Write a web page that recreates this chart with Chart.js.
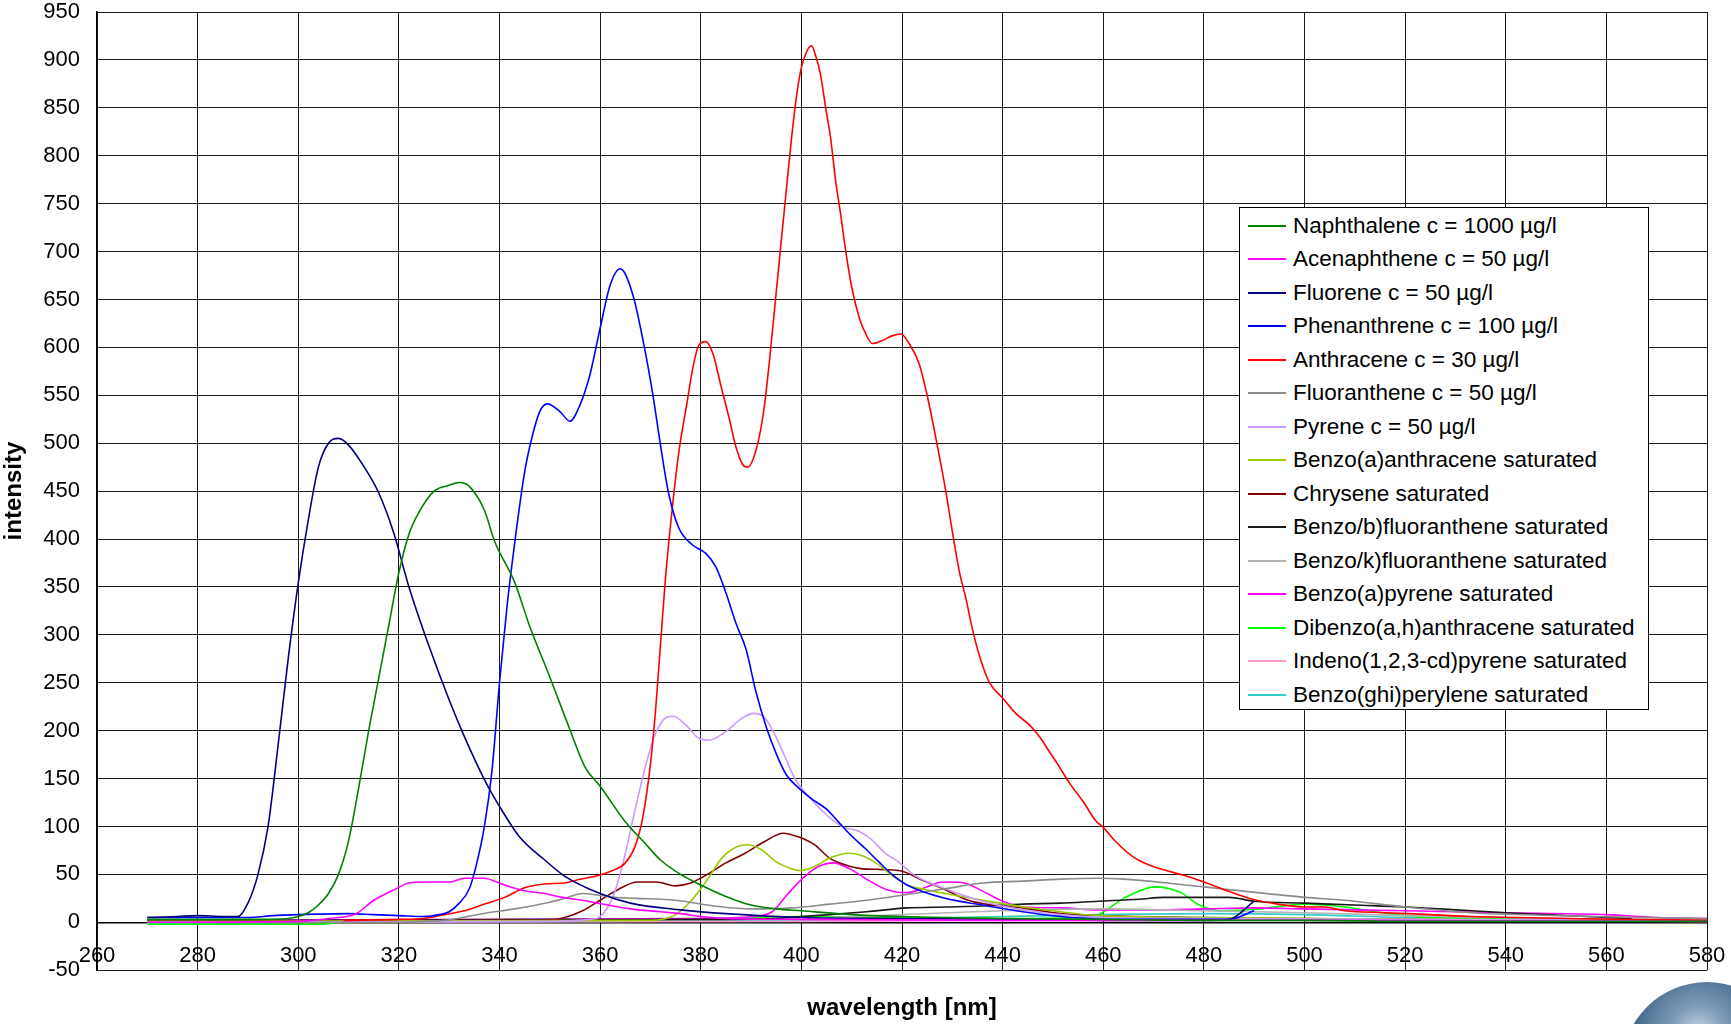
<!DOCTYPE html>
<html>
<head>
<meta charset="utf-8">
<script src="https://cdn.jsdelivr.net/npm/chart.js@4.4.1/dist/chart.umd.min.js"></script>
<style>
  body { margin: 0; background: #fff; }
  #wrap { position: relative; width: 1731px; height: 1024px; overflow: hidden; }
  #legend {
    position: absolute; left: 1239px; top: 207px; width: 410px; height: 503px;
    border: 1px solid #000; background: #fff; box-sizing: border-box; padding-top: 1px;
    font-family: "Liberation Sans", Arial, sans-serif; font-size: 22.5px; color: #000;
  }
  .row { height: 33.5px; display: flex; align-items: center; white-space: nowrap; }
  .sw { width: 38px; height: 2px; margin-left: 8px; margin-right: 7px; flex: none; }
  #logo {
    position: absolute; left: 1622px; top: 982px; width: 170px; height: 170px; border-radius: 50%;
    background: radial-gradient(circle at 45% 30%, #c9d9e6 0%, #7e9cb8 18%, #3f6488 45%, #27486a 75%);
  }
</style>
</head>
<body>
<div id="wrap">
  <canvas id="myChart" width="1731" height="1024"></canvas>
  <div id="legend"></div>
  <div id="logo"></div>
</div>
<script>
  // wavelength [nm] / intensity pairs
  const naphX = [270, 290, 298, 300, 302, 304, 306, 308, 310, 312, 314, 316, 318, 320, 322, 324, 327, 330, 332, 334, 337, 339, 343, 346, 350, 354, 357, 360, 365, 369, 372, 376, 380, 385, 390, 395, 400, 410, 420, 440, 460, 480, 500, 520, 540, 560, 580];
  const naphY = [3, 3, 4, 6, 10, 18, 30, 50, 85, 140, 200, 255, 310, 365, 405, 428, 450, 456, 459, 455, 430, 398, 355, 309, 256, 201, 162, 142, 105, 82, 65, 50, 39, 27, 18, 14, 12, 8, 6, 4, 3, 2, 2, 1, 1, 1, 1];

  const acenX = [270, 300, 306, 311.5, 315, 317.5, 319.5, 322, 326, 330, 333, 337, 339.5, 342, 345, 349, 352.5, 356.5, 360.5, 366, 372, 376, 380, 385, 400, 440, 500, 580];
  const acenY = [0, 1, 4, 9, 23, 30, 35, 41, 42, 42, 46, 46, 42, 37, 33, 30, 26, 23, 19, 14, 11, 9, 6, 4, 3, 2, 2, 1];

  const fluoX = [270, 276, 280, 285, 288, 290, 292, 294, 296, 298, 300, 302, 304, 306, 308, 310, 313, 316, 319, 322, 326, 330, 333, 337, 340, 344, 349, 353, 360, 366, 376, 385, 400, 420, 440, 460, 480, 485, 490];
  const fluoY = [5, 6, 7, 6, 6, 20, 50, 100, 185, 275, 354, 420, 475, 500, 505, 498, 476, 448, 406, 350, 288, 232, 194, 149, 121, 89, 65, 48, 30, 20, 13, 9, 5, 4, 3, 2, 2, 3, 22];

  const phenX = [270, 290, 295, 300, 310, 315, 320, 325, 328, 330, 332, 334, 335.5, 337, 338.5, 340, 341.5, 343, 345, 346.5, 348, 349.5, 352, 354, 356, 358, 360, 362, 364, 366.5, 368.5, 370.5, 372, 373.6, 375.6, 378.3, 381, 383, 385, 387, 389, 391, 393, 395, 397, 399.5, 402, 405, 407.5, 410, 412.7, 415.4, 418, 421, 428.6, 436, 444, 451.5, 459, 470, 485, 490];
  const phenY = [5, 5, 7, 8, 9, 8, 7, 6, 8, 11, 20, 35, 62, 100, 158, 250, 330, 395, 470, 507, 533, 541, 533, 523, 540, 572, 620, 665, 682, 655, 608, 550, 498, 448, 412, 394, 385, 371, 344, 312, 285, 240, 204, 176, 154, 140, 129, 118, 104, 90, 77, 63, 50, 39, 25, 18, 11, 6, 3.5, 3, 3, 12];

  const anthX = [309, 320, 325, 329, 333, 337, 341, 345, 349, 353, 356, 359, 362.5, 365, 367, 368.5, 370, 371, 372, 373, 374.3, 375.6, 377.3, 378.3, 379.6, 381, 382.5, 384, 385.6, 387, 388.3, 389.3, 390.3, 391.6, 392.6, 393.6, 394.9, 396, 397, 398, 399, 400, 401, 402, 402.8, 403.8, 404.8, 405.8, 406.8, 407.8, 408.8, 410, 411.5, 412.8, 414.1, 416, 418, 419.8, 421.4, 423.4, 425, 427, 428.7, 430, 431.4, 432.7, 434, 435.4, 437.4, 440, 442.6, 445.3, 447.3, 449.3, 451.3, 453.2, 456, 458.5, 460, 462.5, 466, 469, 472.5, 476, 480, 484.6, 489.7, 494.7, 500, 504, 508, 516, 525, 533, 542, 558, 580];
  const anthY = [2, 3, 4, 8, 12, 19, 26, 36, 40, 41, 45, 48, 54, 62, 80, 110, 165, 220, 290, 360, 430, 489, 543, 575, 602, 606, 592, 560, 527, 496, 478, 475, 482, 506, 537, 583, 652, 711, 764, 816, 861, 892, 908, 915, 905, 885, 851, 819, 774, 739, 701, 663, 631, 614, 604, 607, 612, 614, 604, 583, 550, 498, 450, 408, 366, 338, 306, 278, 250, 234, 218, 206, 194, 178, 162, 146, 126, 106, 99, 84, 68, 60, 54, 49, 42, 33, 24, 19, 16, 16, 12, 10, 8, 6, 5, 3.5, 2];

  const flanX = [270, 320, 325, 330, 336.6, 343, 350, 353, 356.5, 360, 363, 367, 375, 382.7, 390, 398, 405.6, 413, 421, 428.6, 436, 444, 451.5, 459, 464, 474.5, 480, 487, 500, 508, 520, 533, 550, 567, 580];
  const flanY = [0, 0, 1, 2.5, 9, 14, 21, 25, 30, 28, 26, 25, 23, 17, 14, 15, 19, 23, 29, 35, 41, 43, 45, 46, 45, 40, 37, 33, 26, 23, 16, 10, 7, 5, 4];

  const pyrX = [270, 350, 358, 360, 362.5, 364.5, 366.5, 368.5, 370.5, 372.5, 374.5, 377, 379.6, 381.6, 385, 388.2, 390.5, 392.8, 394.8, 396.8, 398.8, 401.5, 404.8, 408, 411.4, 414, 416.7, 419.3, 422.5, 428.6, 436, 444, 451.5, 460, 480, 520, 580];
  const pyrY = [0, 1, 3, 6, 26, 61, 107, 152, 190, 211, 215, 206, 192, 190, 199, 213, 218, 213, 195, 172, 149, 131, 113, 100, 95, 86, 72, 63, 49, 35, 22, 13, 8, 5, 4, 3, 2];

  const baaX = [270, 370, 372.7, 375, 378, 381, 384.2, 387.3, 389.2, 392, 395, 398, 399.5, 402.6, 405.6, 409.5, 411.8, 414.8, 418, 421, 424.8, 428.6, 436, 444, 451.5, 459, 480, 520, 580];
  const baaY = [1, 2, 3.5, 8, 22, 42, 67, 79, 81, 76, 63, 56, 54, 58, 67, 72, 70, 62, 49, 39, 34, 30, 23, 16, 11, 7, 5, 3, 2];

  const chryX = [270, 345, 350, 353, 356.5, 360, 363.5, 367.4, 371.2, 375, 378, 381, 385, 388.8, 392.6, 396.4, 399.5, 402.6, 405.6, 408.7, 411.8, 416.3, 420.2, 424, 428.6, 433.2, 437.8, 444, 451.5, 459, 480, 500, 520, 540];
  const chryY = [1, 2, 2.4, 5, 12, 23, 34, 42, 42, 38, 41, 49, 62, 72, 84, 93, 89, 81, 67, 60, 56, 55, 53, 44, 34, 23, 18, 15, 9, 7, 5, 4, 3, 2];

  const bbfX = [270, 380, 395, 400, 405.6, 413, 421, 428.6, 436, 444, 451.5, 459, 467, 472, 485, 490, 500, 510, 520, 530, 540, 548, 556, 565];
  const bbfY = [2, 3, 4, 6, 8, 11, 15, 16, 17, 19, 20, 22, 24, 26, 26, 22, 20, 18, 16, 13, 10, 8, 6, 4];

  const bkfX = [270, 360, 400, 420, 440, 460, 480, 500, 520, 540, 560, 580];
  const bkfY = [1, 2, 4, 8, 12, 14, 12, 10, 7, 5, 3, 2];

  const bapX = [270, 380, 390.3, 394.2, 397.2, 400.3, 403.3, 406.4, 409.5, 413.3, 417, 421, 424, 427, 429.3, 432.4, 436.2, 440, 444, 451.5, 459, 470, 480, 490, 500, 520, 540, 560, 570, 580];
  const bapY = [2, 4, 6, 11, 29, 46, 58, 62, 56, 44, 34, 31, 35, 41, 42, 41, 32, 22, 16, 15, 13, 13, 14, 15, 14, 12, 10, 8, 5, 4];

  const dbaX = [270, 305, 310, 340, 380, 400, 420, 440, 455, 458.6, 464.4, 470.3, 475.4, 478.7, 483, 491, 500, 504, 508, 516.6, 525, 580];
  const dbaY = [-2, -2, 2, 3, 4, 6, 5, 4, 5, 7, 26, 37, 31, 19, 12, 14, 19, 18, 16, 9, 5, 2];

  const indX = [270, 400, 440, 460, 500, 540, 580];
  const indY = [0, 1, 2, 3, 3, 2, 1];

  const bghiX = [270, 300, 360, 400, 420, 440, 460, 480, 500, 520, 540, 560, 580];
  const bghiY = [-1, 0, 1, 2, 4, 6, 8, 9, 8, 5, 4, 3, 2];

  const xTicks = [260, 580, 20];   // min, max, step
  const yTicks = [-50, 950, 50];

  function pts(xs, ys) {
    return xs.map(function (x, i) { return { x: x, y: ys[i] }; });
  }

  function line(label, xs, ys, color) {
    return {
      label: label,
      data: pts(xs, ys),
      borderColor: color,
      backgroundColor: color,
      borderWidth: 1.6,
      pointRadius: 0,
      fill: false,
      cubicInterpolationMode: 'monotone'
    };
  }

  const datasets = [
    line('Naphthalene c = 1000 µg/l', naphX, naphY, '#008000'),
    line('Acenaphthene c = 50 µg/l', acenX, acenY, '#FF00FF'),
    line('Fluorene c = 50 µg/l', fluoX, fluoY, '#000080'),
    line('Phenanthrene c = 100 µg/l', phenX, phenY, '#0000FF'),
    line('Anthracene c = 30 µg/l', anthX, anthY, '#FF0000'),
    line('Fluoranthene c = 50 µg/l', flanX, flanY, '#8C8C8C'),
    line('Pyrene c = 50 µg/l', pyrX, pyrY, '#CC99FF'),
    line('Benzo(a)anthracene saturated', baaX, baaY, '#99CC00'),
    line('Chrysene saturated', chryX, chryY, '#800000'),
    line('Benzo/b)fluoranthene saturated', bbfX, bbfY, '#1A1A1A'),
    line('Benzo/k)fluoranthene saturated', bkfX, bkfY, '#B4B4B4'),
    line('Benzo(a)pyrene saturated', bapX, bapY, '#FF00FF'),
    line('Dibenzo(a,h)anthracene saturated', dbaX, dbaY, '#00FF00'),
    line('Indeno(1,2,3-cd)pyrene saturated', indX, indY, '#FF99CC'),
    line('Benzo(ghi)perylene saturated', bghiX, bghiY, '#33CCCC')
  ];

  // legend box like the spreadsheet one
  const legend = document.getElementById('legend');
  datasets.forEach(function (d) {
    const row = document.createElement('div');
    row.className = 'row';
    row.innerHTML = '<span class="sw" style="background:' + d.borderColor + '"></span><span>' + d.label + '</span>';
    legend.appendChild(row);
  });

  Chart.defaults.font.family = '"Liberation Sans", Arial, sans-serif';
  Chart.defaults.color = '#000';

  // keep the plot box where the spreadsheet had it
  function noOverflow(s) {
    s.paddingTop = 0; s.paddingBottom = 0; s.paddingLeft = 0; s.paddingRight = 0;
  }

  const ctx = document.getElementById('myChart');

  new Chart(ctx, {
    type: 'line',
    data: { datasets: datasets },
    options: {
      responsive: false,
      animation: false,
      layout: { padding: { top: 12, right: 24, left: 0, bottom: 0 } },
      plugins: {
        legend: { display: false },
        tooltip: { enabled: false },
        title: {
          display: true,
          text: 'wavelength [nm]',
          position: 'bottom',
          fullSize: false,
          font: { size: 24, weight: 'bold' },
          padding: { top: 24, bottom: 1 }
        }
      },
      scales: {
        x: {
          type: 'linear',
          position: { y: 0 },
          min: xTicks[0],
          max: xTicks[1],
          ticks: { stepSize: xTicks[2], padding: 20, font: { size: 22 }, maxRotation: 0 },
          grid: { color: '#1a1a1a', lineWidth: 1, drawTicks: false },
          border: { display: true, color: '#000', width: 1.5 },
          afterFit: noOverflow
        },
        y: {
          min: yTicks[0],
          max: yTicks[1],
          ticks: { stepSize: yTicks[2], padding: 17, font: { size: 22 } },
          grid: { color: '#1a1a1a', lineWidth: 1, drawTicks: false },
          border: { display: true, color: '#000', width: 1.5 },
          title: { display: true, text: 'intensity', font: { size: 24, weight: 'bold' }, padding: 0 },
          afterFit: function (s) { s.width = 97; noOverflow(s); }
        }
      }
    }
  });
</script>
</body>
</html>
